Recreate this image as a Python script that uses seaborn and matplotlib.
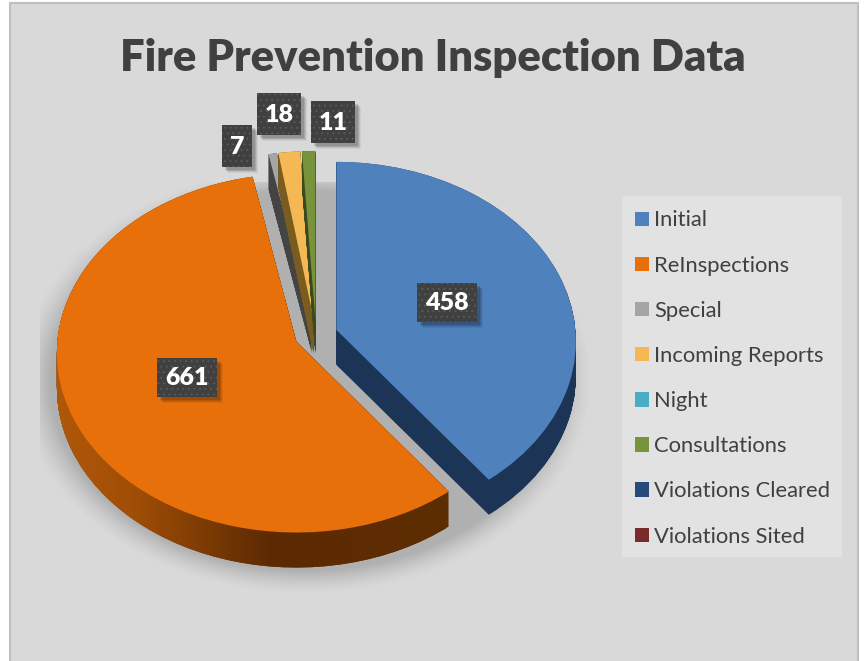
import numpy as np
import matplotlib
matplotlib.use('Agg')
import matplotlib.pyplot as plt
import matplotlib.transforms as mtransforms
from matplotlib.patches import Rectangle, PathPatch
from matplotlib.path import Path
import seaborn as sns

sns.set_theme(style='white')
plt.rcParams['font.family'] = ['Lato', 'DejaVu Sans']
plt.rcParams['hatch.linewidth'] = 0.6

# data
categories = ['Initial', 'ReInspections', 'Special', 'Incoming Reports', 'Night',
              'Consultations', 'Violations Cleared', 'Violations Sited']
values = [458, 661, 7, 18, 0, 11, 0, 0]
face_colors = ['#4f81bd', '#e8700a', '#a5a5a5', '#f4b955', '#4bacc6', '#77933c', '#264b78', '#772c2a']
side_colors = ['#1c3556', '#5f2d02', '#444444', '#7a5c20', '#25566a', '#3b4a1e', '#13263c', '#3b1615']

# label boxes in picture pixels: left, top, width, height
label_boxes = {458: (417, 283, 60, 39), 661: (157, 358, 60, 39),
               7: (222, 125, 30, 42), 18: (257, 93, 44, 42), 11: (311, 101, 44, 42)}

W, H = 864, 661
CX, CY = 316, 335     # pie centre
RX, RY, K = 239, 178.7, 0.064
DEPTH = 35


class Tilt(mtransforms.Transform):
    # unit pie -> picture pixels, back of each slice a bit smaller
    input_dims = 2
    output_dims = 2

    def __init__(self, center, drop=0):
        super().__init__()
        self.center = center
        self.drop = drop

    def transform_non_affine(self, xy):
        xy = np.asarray(xy, dtype=float)
        cx, cy = self.center
        w = 1 + K * (xy[:, 1] - cy)
        px = cx + (xy[:, 0] - cx) / w
        py = cy + (xy[:, 1] - cy) / w
        return np.column_stack([CX + RX * px, CY - RY * py + self.drop])


fig = plt.figure(figsize=(W / 100, H / 100), dpi=100, facecolor='white')
ax = fig.add_axes([0, 0, 1, 1])

palette = sns.color_palette(face_colors)
wedges, _ = ax.pie(values, colors=palette, startangle=90, counterclock=False,
                   explode=[0.09] * len(values), radius=1, wedgeprops={'linewidth': 0})

# background panel and legend panel
ax.add_patch(Rectangle((10, 3), 848, H, facecolor='#d9d9d9', edgecolor='#bfbfbf', linewidth=1.5, zorder=0))
ax.add_patch(Rectangle((622, 196), 220, 361, facecolor='#e2e2e2', edgecolor='none', zorder=0.5))

# soft shadow below the pie
yy, xx = np.mgrid[0:H, 0:W]
dist = np.hypot((xx - 305) / 255, (yy - 380) / 190)
alpha = 0.19 * np.clip((1.13 - dist) / 0.13, 0, 1) ** 1.5
alpha[(yy < 182) | (xx < 40)] = 0
shadow = np.zeros((H, W, 4))
shadow[..., 3] = alpha
ax.imshow(shadow, extent=(0, W, H, 0), aspect='auto', interpolation='bilinear', zorder=1)

# sides, small slices first so the big ones stay on top
draw_order = [2, 3, 4, 5, 6, 7, 0, 1]
for n, i in enumerate(draw_order):
    w = wedges[i]
    if values[i] == 0:
        w.set_visible(False)
    base = w.get_path()
    swept = Path.make_compound_path(*[Tilt(w.center, d).transform_path(base) for d in range(0, DEPTH + 1)])
    z = 2 + n * 0.1
    ax.add_patch(PathPatch(swept, facecolor=side_colors[i], edgecolor='none', zorder=z, visible=values[i] > 0))
    if categories[i] == 'ReInspections':
        # orange side goes darker towards the front
        stops_x = [0, 0.2, 0.55, 1]
        stops = np.array([[176, 88, 8], [160, 78, 6], [92, 42, 2], [94, 46, 2]]) / 255
        t = np.linspace(0, 1, 256)
        grad = np.column_stack([np.interp(t, stops_x, stops[:, c]) for c in range(3)])[None, :, :]
        im = ax.imshow(grad, extent=(55, 446, 575, 300), aspect='auto', interpolation='bilinear', zorder=z + 0.01)
        im.set_clip_path(swept, ax.transData)
    w.set_transform(Tilt(w.center) + ax.transData)
    w.set_zorder(z + 0.05)

# value labels
for val, (x0, y0, bw, bh) in label_boxes.items():
    for off, a in [(6, 0.06), (5, 0.08), (4, 0.1), (3, 0.12)]:
        ax.add_patch(Rectangle((x0 + off, y0 + off), bw, bh, facecolor='black', alpha=a, edgecolor='none', zorder=5))
    ax.add_patch(Rectangle((x0, y0), bw, bh, facecolor='#404040', edgecolor='#5c5c5c', hatch='...',
                           linewidth=0, zorder=6))
    ax.text(x0 + bw / 2, y0 + bh / 2 + 0.5, str(val), color='white', fontsize=18, fontweight='heavy',
            ha='center', va='center', zorder=7)

ax.text(433, 58, 'Fire Prevention Inspection Data', color='#404040', fontsize=31.3, fontweight='heavy',
        ha='center', va='center', zorder=7)

ax.set_aspect('auto')
ax.set_xlim(0, W)
ax.set_ylim(H, 0)
ax.axis('off')

leg = ax.legend(wedges, categories, loc='upper left', bbox_to_anchor=(635 / W, 1 - 210.5 / H),
                bbox_transform=ax.transAxes, fontsize=15.8, frameon=False, borderaxespad=0, borderpad=0,
                labelspacing=1.146, handlelength=0.64, handleheight=0.64, handletextpad=0.24, labelcolor='#404040')
leg.set_zorder(8)
for h in leg.legend_handles:
    h.set_visible(True)

fig.savefig('out.png', dpi=100)
